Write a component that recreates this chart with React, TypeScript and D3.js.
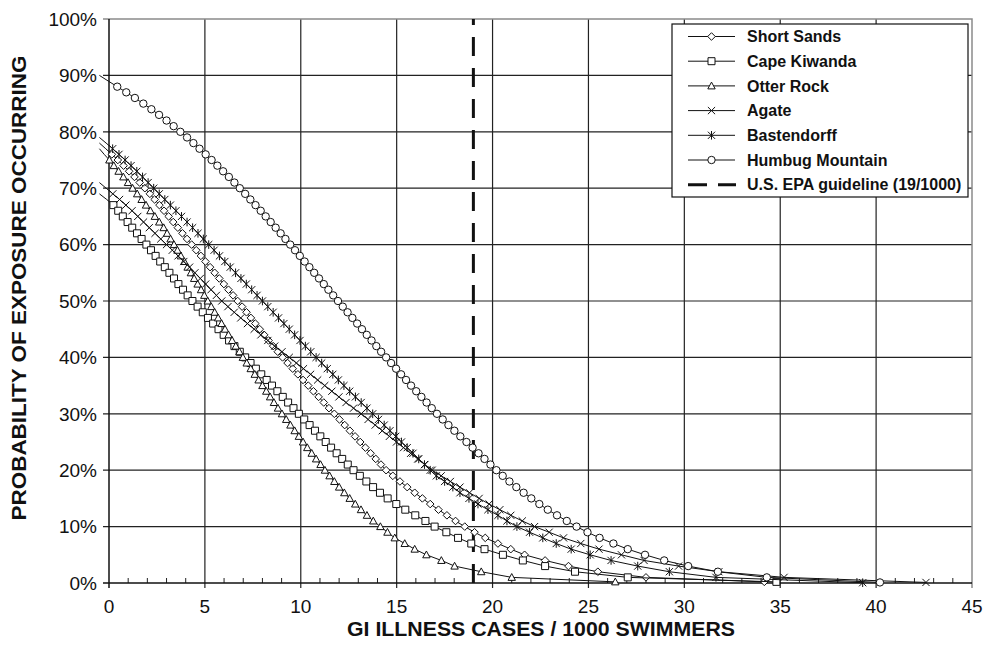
import React, { useRef, useEffect } from "react";
import * as d3 from "d3";

// probability levels (%) shared by every site curve, top to bottom
const PCT = [
  90, 89, 88, 87, 86, 85, 84, 83, 82, 81,
  80, 79, 78, 77, 76, 75, 74, 73, 72, 71,
  70, 69, 68, 67, 66, 65, 64, 63, 62, 61,
  60, 59, 58, 57, 56, 55, 54, 53, 52, 51,
  50, 49, 48, 47, 46, 45, 44, 43, 42, 41,
  40, 39, 38, 37, 36, 35, 34, 33, 32, 31,
  30, 29, 28, 27, 26, 25, 24, 23, 22, 21,
  20, 19, 18, 17, 16, 15, 14, 13, 12, 11,
  10, 9, 8, 7, 6, 5, 4, 3, 2, 1,
];

const SITE_NAMES = ["Short Sands", "Cape Kiwanda", "Otter Rock", "Agate", "Bastendorff", "Humbug Mountain"];
const SITE_MARKERS = ["diamond", "square", "triangle", "x", "asterisk", "circle"];

// GI cases / 1000 swimmers at each PCT level (78% .. 1%)
const shortSandsX = [
  -0.5, -0.17, 0.15, 0.46, 0.76, 1.05, 1.33, 1.6, 1.87, 2.13,
  2.38, 2.63, 2.87, 3.11, 3.35, 3.59, 3.83, 4.07, 4.31, 4.55,
  4.79, 5.03, 5.27, 5.51, 5.75, 5.99, 6.23, 6.47, 6.71, 6.94,
  7.17, 7.4, 7.63, 7.86, 8.09, 8.32, 8.56, 8.8, 9.05, 9.31,
  9.58, 9.85, 10.12, 10.39, 10.66, 10.93, 11.2, 11.47, 11.75, 12.02,
  12.29, 12.56, 12.83, 13.1, 13.37, 13.64, 13.91, 14.18, 14.45, 14.8,
  15.17, 15.55, 15.94, 16.34, 16.75, 17.18, 17.62, 18.07, 18.55, 19.06,
  19.62, 20.28, 20.95, 21.67, 22.74, 23.96, 25.49, 28.0,
];
// 69% .. 1%
const capeKiwandaX = [
  -0.5, -0.12, 0.23, 0.48, 0.72, 0.97, 1.21, 1.46, 1.7, 1.95,
  2.19, 2.43, 2.67, 2.91, 3.15, 3.39, 3.62, 3.86, 4.1, 4.35,
  4.62, 4.89, 5.16, 5.43, 5.71, 5.98, 6.26, 6.54, 6.82, 7.1,
  7.38, 7.66, 7.94, 8.22, 8.5, 8.78, 9.06, 9.34, 9.62, 9.9,
  10.18, 10.46, 10.74, 11.02, 11.3, 11.58, 11.87, 12.16, 12.45, 12.75,
  13.08, 13.42, 13.77, 14.13, 14.53, 14.98, 15.45, 15.97, 16.5, 16.98,
  17.59, 18.2, 18.89, 19.58, 20.54, 21.58, 22.74, 24.3, 27.05,
];
// 77% .. 1%
const otterRockX = [
  -0.5, -0.25, 0.02, 0.25, 0.5, 0.75, 0.99, 1.23, 1.47, 1.7,
  1.93, 2.16, 2.39, 2.62, 2.85, 3.03, 3.21, 3.39, 3.57, 3.75,
  3.93, 4.1, 4.27, 4.44, 4.62, 4.8, 4.97, 5.15, 5.33, 5.51,
  5.69, 5.87, 6.05, 6.23, 6.42, 6.61, 6.8, 6.98, 7.18, 7.39,
  7.6, 7.8, 8.0, 8.2, 8.4, 8.6, 8.81, 9.02, 9.24, 9.46,
  9.68, 9.9, 10.12, 10.34, 10.57, 10.8, 11.03, 11.26, 11.5, 11.75,
  12.0, 12.27, 12.55, 12.84, 13.14, 13.45, 13.78, 14.15, 14.52, 14.9,
  15.42, 15.94, 16.55, 17.33, 18.02, 19.41, 21.0,
];
// 71% .. 1%
const agateX = [
  -0.5, -0.15, 0.2, 0.55, 0.88, 1.2, 1.5, 1.8, 2.1, 2.4,
  2.7, 3.0, 3.3, 3.6, 3.9, 4.2, 4.48, 4.76, 5.04, 5.32,
  5.6, 5.88, 6.2, 6.53, 6.87, 7.22, 7.57, 7.92, 8.28, 8.64,
  9.02, 9.4, 9.77, 10.14, 10.51, 10.88, 11.25, 11.62, 11.99, 12.36,
  12.75, 13.15, 13.51, 13.88, 14.25, 14.62, 14.99, 15.36, 15.73, 16.1,
  16.47, 16.85, 17.32, 17.8, 18.3, 18.8, 19.3, 19.82, 20.38, 20.95,
  21.55, 22.19, 22.95, 23.7, 24.6, 25.55, 26.72, 27.9, 29.7, 31.8, 35.2,
];
// 79% .. 1%
const bastendorffX = [
  -0.5, -0.15, 0.19, 0.52, 0.84, 1.15, 1.45, 1.75, 2.04, 2.33,
  2.62, 2.91, 3.2, 3.49, 3.78, 4.07, 4.36, 4.64, 4.92, 5.2,
  5.48, 5.76, 6.04, 6.32, 6.6, 6.88, 7.16, 7.44, 7.72, 8.0,
  8.28, 8.56, 8.84, 9.12, 9.4, 9.68, 9.96, 10.24, 10.52, 10.8,
  11.09, 11.38, 11.67, 11.96, 12.25, 12.55, 12.85, 13.15, 13.45, 13.75,
  14.05, 14.35, 14.65, 14.95, 15.25, 15.55, 15.85, 16.15, 16.45, 16.75,
  17.07, 17.5, 17.93, 18.3, 18.77, 19.24, 19.76, 20.28, 20.75, 21.27,
  21.93, 22.62, 23.32, 24.1, 25.09, 26.18, 27.57, 29.22, 31.65,
];
// 90% .. 1%
const humbugX = [
  -0.5, -0.04, 0.43, 0.9, 1.35, 1.79, 2.21, 2.61, 3.0, 3.37,
  3.72, 4.07, 4.4, 4.72, 5.04, 5.35, 5.65, 5.95, 6.25, 6.54,
  6.82, 7.1, 7.37, 7.64, 7.91, 8.17, 8.43, 8.69, 8.95, 9.2,
  9.45, 9.7, 9.95, 10.2, 10.45, 10.7, 10.95, 11.2, 11.44, 11.69,
  11.94, 12.19, 12.44, 12.69, 12.94, 13.19, 13.44, 13.69, 13.94, 14.19,
  14.45, 14.71, 14.97, 15.23, 15.49, 15.75, 16.02, 16.29, 16.56, 16.83,
  17.1, 17.4, 17.7, 18.01, 18.32, 18.64, 18.96, 19.27, 19.58, 19.89,
  20.2, 20.53, 20.88, 21.24, 21.62, 22.02, 22.44, 22.88, 23.36, 23.87,
  24.38, 24.95, 25.58, 26.3, 27.05, 27.95, 28.95, 30.2, 31.75, 34.3,
];

// last point of each curve, below 1%
const tailPct = [0.2, 0.2, 0.2, 0.1, 0.05, 0.1];
const tailX = [34.17, 34.8, 26.4, 42.6, 39.3, 40.2];

const EPA_GUIDELINE = 19;
const X_TICKS = [0, 5, 10, 15, 20, 25, 30, 35, 40, 45];
const Y_TICKS = [0, 10, 20, 30, 40, 50, 60, 70, 80, 90, 100];

const FONT = "'Liberation Sans', Arial, sans-serif";

function markerPath(kind: string) {
  switch (kind) {
    case "diamond": return "M0,-3.8L3.8,0L0,3.8L-3.8,0Z";
    case "square": return "M-3.5,-3.5H3.5V3.5H-3.5Z";
    case "triangle": return "M0,-3.8L3.7,3L-3.7,3Z";
    case "x": return "M-3.6,-3.6L3.6,3.6M-3.6,3.6L3.6,-3.6";
    case "asterisk": return "M-3.6,-3.6L3.6,3.6M-3.6,3.6L3.6,-3.6M0,-4.3V4.3";
    default: return d3.symbol(d3.symbolCircle, Math.PI * 3.7 * 3.7)() as string;
  }
}

export default function App() {
  const ref = useRef<SVGSVGElement | null>(null);

  useEffect(() => {
    const svg = d3.select(ref.current);
    svg.selectAll("*").remove();

    const left = 109, right = 972, top = 19, bottom = 583;
    const x = d3.scaleLinear().domain([0, 45]).range([left, right]);
    const y = d3.scaleLinear().domain([0, 100]).range([bottom, top]);

    svg.append("rect").attr("width", 984).attr("height", 649).attr("fill", "#fff");

    // grid
    const grid = svg.append("g").attr("stroke", "#222").attr("stroke-width", 1.2);
    X_TICKS.filter(d => d > 0 && d < 45).forEach(d => {
      grid.append("line").attr("x1", x(d)).attr("x2", x(d)).attr("y1", top).attr("y2", bottom + 5);
    });
    Y_TICKS.filter(d => d > 0 && d < 100).forEach(d => {
      grid.append("line").attr("x1", left - 6).attr("x2", right).attr("y1", y(d)).attr("y2", y(d));
    });
    // top / right border
    svg.append("path")
      .attr("d", `M${left - 6},${top}H${right}V${bottom + 5}`)
      .attr("fill", "none").attr("stroke", "#8a8a8a").attr("stroke-width", 1.5);

    // minor ticks on x axis
    const minor = svg.append("g").attr("stroke", "#222").attr("stroke-width", 1);
    d3.range(1, 45).filter(d => d % 5 !== 0).forEach(d => {
      minor.append("line").attr("x1", x(d)).attr("x2", x(d)).attr("y1", bottom - 5).attr("y2", bottom);
    });

    // axes lines
    svg.append("line").attr("x1", left).attr("x2", left).attr("y1", top).attr("y2", bottom + 5)
      .attr("stroke", "#111").attr("stroke-width", 1.5);
    svg.append("line").attr("x1", left - 6).attr("x2", right).attr("y1", bottom).attr("y2", bottom)
      .attr("stroke", "#111").attr("stroke-width", 1.5);

    // tick labels
    svg.append("g").selectAll("text").data(Y_TICKS).enter().append("text")
      .attr("x", 97).attr("y", d => y(d)).attr("dy", "0.36em")
      .attr("text-anchor", "end").attr("font-family", FONT).attr("font-size", 19)
      .attr("fill", "#111").text(d => `${d}%`);
    svg.append("g").selectAll("text").data(X_TICKS).enter().append("text")
      .attr("x", d => x(d)).attr("y", 613)
      .attr("text-anchor", "middle").attr("font-family", FONT).attr("font-size", 19)
      .attr("fill", "#111").text(d => d);

    // axis titles
    svg.append("text").attr("x", 541).attr("y", 636)
      .attr("text-anchor", "middle").attr("font-family", FONT).attr("font-size", 20)
      .attr("font-weight", "bold").attr("fill", "#111")
      .attr("textLength", 388).attr("lengthAdjust", "spacingAndGlyphs")
      .text("GI ILLNESS CASES / 1000 SWIMMERS");
    svg.append("text").attr("transform", `translate(26,${(top + bottom) / 2 - 13}) rotate(-90)`)
      .attr("text-anchor", "middle").attr("font-family", FONT).attr("font-size", 20)
      .attr("font-weight", "bold").attr("fill", "#111")
      .attr("textLength", 465).attr("lengthAdjust", "spacingAndGlyphs")
      .text("PROBABILITY OF EXPOSURE OCCURRING");

    // EPA guideline
    svg.append("line").attr("x1", x(EPA_GUIDELINE)).attr("x2", x(EPA_GUIDELINE))
      .attr("y1", bottom).attr("y2", top)
      .attr("stroke", "#111").attr("stroke-width", 3).attr("stroke-dasharray", "19 12");

    // site curves
    const sitesX = [shortSandsX, capeKiwandaX, otterRockX, agateX, bastendorffX, humbugX];
    const line = d3.line<[number, number]>().x(d => x(d[0])).y(d => y(d[1]));
    sitesX.forEach((xs, i) => {
      const levels = PCT.slice(PCT.length - xs.length);
      const pts: [number, number][] = xs.map((v, j) => [v, levels[j]] as [number, number]);
      pts.push([tailX[i], tailPct[i]]);
      const g = svg.append("g");
      g.append("path").attr("d", line(pts) as string)
        .attr("fill", "none").attr("stroke", "#111").attr("stroke-width", 1);
      const kind = SITE_MARKERS[i];
      const closed = kind !== "x" && kind !== "asterisk";
      g.selectAll("path.m").data(pts.filter(p => p[0] >= 0)).enter().append("path")
        .attr("class", "m")
        .attr("transform", d => `translate(${x(d[0])},${y(d[1])})`)
        .attr("d", markerPath(kind))
        .attr("fill", closed ? "#fff" : "none")
        .attr("stroke", "#111").attr("stroke-width", 1);
    });

    // legend
    const lg = svg.append("g");
    lg.append("rect").attr("x", 672).attr("y", 24).attr("width", 296).attr("height", 173)
      .attr("fill", "#fff").attr("stroke", "#111").attr("stroke-width", 1.2);
    const rowY = (i: number) => 36.5 + i * 24.7;
    SITE_NAMES.forEach((name, i) => {
      lg.append("line").attr("x1", 688).attr("x2", 735).attr("y1", rowY(i)).attr("y2", rowY(i))
        .attr("stroke", "#111").attr("stroke-width", 1);
      const kind = SITE_MARKERS[i];
      const closed = kind !== "x" && kind !== "asterisk";
      lg.append("path").attr("transform", `translate(711.5,${rowY(i)})`)
        .attr("d", markerPath(kind)).attr("fill", closed ? "#fff" : "none")
        .attr("stroke", "#111").attr("stroke-width", 1);
      lg.append("text").attr("x", 747).attr("y", rowY(i)).attr("dy", "0.36em")
        .attr("font-family", FONT).attr("font-size", 16).attr("font-weight", "bold")
        .attr("fill", "#111").text(name);
    });
    lg.append("line").attr("x1", 688).attr("x2", 736).attr("y1", rowY(6)).attr("y2", rowY(6))
      .attr("stroke", "#111").attr("stroke-width", 3).attr("stroke-dasharray", "19 11");
    lg.append("text").attr("x", 747).attr("y", rowY(6)).attr("dy", "0.36em")
      .attr("font-family", FONT).attr("font-size", 16).attr("font-weight", "bold")
      .attr("fill", "#111").text("U.S. EPA guideline (19/1000)");
  }, []);

  return (
    <svg ref={ref} width={984} height={649}
      style={{ position: "absolute", left: 0, top: 0, display: "block" }} />
  );
}
